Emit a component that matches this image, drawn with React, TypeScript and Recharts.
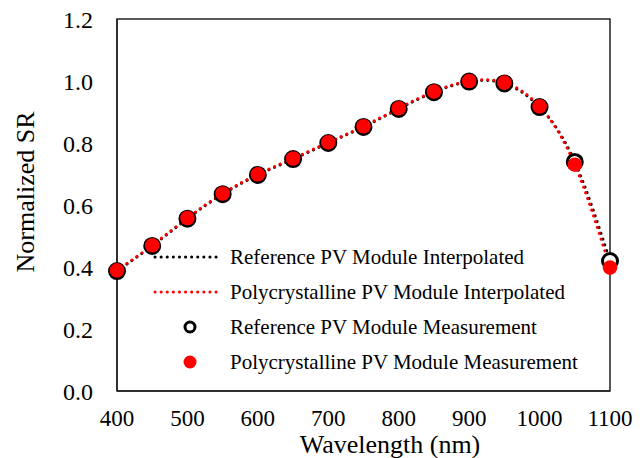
import { ComposedChart, Line, XAxis, YAxis, Legend, ReferenceArea, Label } from "recharts"

const wavelengths = [400, 450, 500, 550, 600, 650, 700, 750, 800, 850, 900, 950, 1000, 1050, 1100]
const referenceSR = [0.387, 0.468, 0.556, 0.635, 0.697, 0.748, 0.8, 0.852, 0.91, 0.964, 0.998, 0.992, 0.916, 0.739, 0.419]
const polySR = [0.389, 0.47, 0.558, 0.637, 0.699, 0.75, 0.802, 0.854, 0.912, 0.966, 1.0, 0.995, 0.918, 0.73, 0.398]
const xTicks = [400, 500, 600, 700, 800, 900, 1000, 1100]
const yTicks = [0, 0.2, 0.4, 0.6, 0.8, 1.0, 1.2]

const seriesNames = [
  "Reference PV Module Interpolated",
  "Polycrystalline PV Module Interpolated",
  "Reference PV Module Measurement",
  "Polycrystalline PV Module Measurement",
]

const data = wavelengths.map((w, i) => ({ wl: w, ref: referenceSR[i], poly: polySR[i] }))

const font = "'Liberation Serif', 'Times New Roman', serif"
const dotted = { strokeWidth: 3, strokeDasharray: "0.1 6", strokeLinecap: "round" as const }

// legend box sits inside the plot, lower middle
function LegendBox() {
  const rows = [17, 52, 87, 122]
  return (
    <svg width={440} height={140} style={{ display: "block" }}>
      <line x1={5} x2={70} y1={rows[0]} y2={rows[0]} stroke="#000" {...dotted} />
      <line x1={5} x2={70} y1={rows[1]} y2={rows[1]} stroke="#ff0000" {...dotted} />
      <circle cx={40} cy={rows[2]} r={5} fill="#fff" stroke="#000" strokeWidth={3} />
      <circle cx={40} cy={rows[3]} r={6.5} fill="#ff0000" />
      {seriesNames.map((name, i) => (
        <text key={name} x={80} y={rows[i]} dominantBaseline="central" fontSize={21} fontFamily={font} fill="#000">
          {name}
        </text>
      ))}
    </svg>
  )
}

export default function App() {
  return (
    <div style={{ position: "absolute", left: 0, top: 0, width: 640, height: 458, background: "#fff", fontFamily: font }}>
      <ComposedChart width={640} height={458} data={data} margin={{ top: 19, right: 30, bottom: 0, left: 0 }}>
        <ReferenceArea x1={400} x2={1100} y1={0} y2={1.2} fill="none" stroke="#222" strokeWidth={1.5} ifOverflow="visible" />
        <XAxis
          dataKey="wl"
          type="number"
          domain={[400, 1100]}
          ticks={xTicks}
          height={67}
          tickLine={false}
          tickSize={6}
          tickMargin={13}
          axisLine={{ stroke: "#222", strokeWidth: 1.5 }}
          tick={{ fontSize: 23, fontFamily: font, fill: "#000" }}
          interval={0}
        >
          <Label
            content={() => (
              <text x={390} y={453} textAnchor="middle" fontSize={26} fontFamily={font} fill="#000">
                Wavelength (nm)
              </text>
            )}
          />
        </XAxis>
        <YAxis
          type="number"
          domain={[0, 1.2]}
          ticks={yTicks}
          width={117}
          tickLine={false}
          tickSize={6}
          tickMargin={18}
          axisLine={{ stroke: "#222", strokeWidth: 1.5 }}
          tick={{ fontSize: 24, fontFamily: font, fill: "#000" }}
          tickFormatter={(v: number) => v.toFixed(1)}
          interval={0}
        >
          <Label
            content={() => (
              <text
                x={25}
                y={192}
                transform="rotate(-90 25 192)"
                textAnchor="middle"
                dominantBaseline="central"
                fontSize={26}
                fontFamily={font}
                fill="#000"
              >
                Normalized SR
              </text>
            )}
          />
        </YAxis>
        <Legend
          layout="vertical"
          align="center"
          verticalAlign="middle"
          content={() => <LegendBox />}
          wrapperStyle={{ left: 150, top: 240, width: 440, height: 140 }}
        />
        <Line type="natural" dataKey="ref" stroke="#000" {...dotted} dot={false} activeDot={false} isAnimationActive={false} />
        <Line type="natural" dataKey="poly" stroke="#ff0000" {...dotted} dot={false} activeDot={false} isAnimationActive={false} />
        <Line
          dataKey="ref"
          stroke="none"
          dot={{ r: 7.5, fill: "#fff", stroke: "#000", strokeWidth: 3 }}
          activeDot={false}
          isAnimationActive={false}
        />
        <Line
          dataKey="poly"
          stroke="none"
          dot={{ r: 7.3, fill: "#ff0000", stroke: "none", strokeWidth: 0 }}
          activeDot={false}
          isAnimationActive={false}
        />
      </ComposedChart>
    </div>
  )
}
